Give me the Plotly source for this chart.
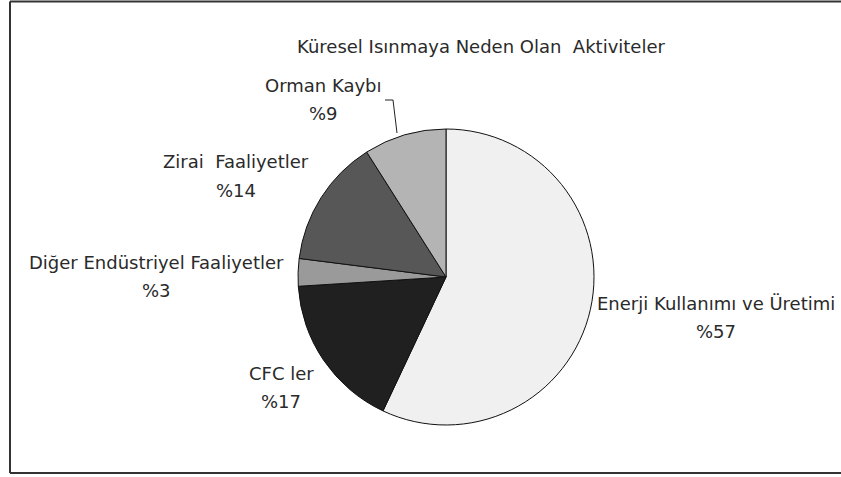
import plotly.graph_objects as go

W, H = 841, 477

categories = ["Enerji Kullanımı ve Üretimi", "CFC ler", "Diğer Endüstriyel Faaliyetler",
              "Zirai  Faaliyetler", "Orman Kaybı"]
values = [57, 17, 3, 14, 9]
colors = ["#f0f0f0", "#202020", "#9a9a9a", "#575757", "#b4b4b4"]
title_text = "Küresel Isınmaya Neden Olan  Aktiviteler"

# label centres in pixels (x, y of first line)
label_pos = [(716, 303), (281, 373), (156, 262), (236, 162), (323, 85)]
line_gap = 28

cx, cy, r = 446, 277, 148

fig = go.Figure(go.Pie(
    labels=categories, values=values, sort=False, direction="clockwise", rotation=0,
    marker=dict(colors=colors, line=dict(color="#111111", width=1)),
    textinfo="none", hoverinfo="label+percent", showlegend=False,
    domain=dict(x=[(cx - r) / W, (cx + r) / W], y=[(H - cy - r) / H, (H - cy + r) / H]),
))

font = dict(family="DejaVu Sans, sans-serif", size=18, color="#2a2a2a")
anns = []
for name, v, (px, py) in zip(categories, values, label_pos):
    anns.append(dict(x=px / W, y=1 - py / H, xref="paper", yref="paper", text=name,
                     showarrow=False, font=font, xanchor="center", yanchor="middle"))
    anns.append(dict(x=px / W, y=1 - (py + line_gap) / H, xref="paper", yref="paper",
                     text="%" + str(v), showarrow=False, font=font, xanchor="center", yanchor="middle"))
anns.append(dict(x=481 / W, y=1 - 46 / H, xref="paper", yref="paper", text=title_text,
                 showarrow=False, font=font, xanchor="center", yanchor="middle"))

def P(x, y):
    return x / W, 1 - y / H

shapes = []
frame_col = "#333333"
for (x0, y0, x1, y1) in [(10, 1.5, W, 1.5), (10, 1.5, 10, 473), (10, 473, W, 473)]:
    a, b = P(x0, y0); c, d = P(x1, y1)
    shapes.append(dict(type="line", xref="paper", yref="paper", x0=a, y0=b, x1=c, y1=d,
                       line=dict(color=frame_col, width=2)))
# leader line for Orman Kaybı
pts = [(385, 100), (393, 100), (397, 133)]
for (x0, y0), (x1, y1) in zip(pts[:-1], pts[1:]):
    a, b = P(x0, y0); c, d = P(x1, y1)
    shapes.append(dict(type="line", xref="paper", yref="paper", x0=a, y0=b, x1=c, y1=d,
                       line=dict(color="#222222", width=1)))

fig.update_layout(width=W, height=H, margin=dict(l=0, r=0, t=0, b=0),
                  paper_bgcolor="white", plot_bgcolor="white",
                  annotations=anns, shapes=shapes)
fig.write_html("out.html", config={"displayModeBar": False},
               post_script="document.body.style.margin='0';document.body.style.overflow='hidden';")
